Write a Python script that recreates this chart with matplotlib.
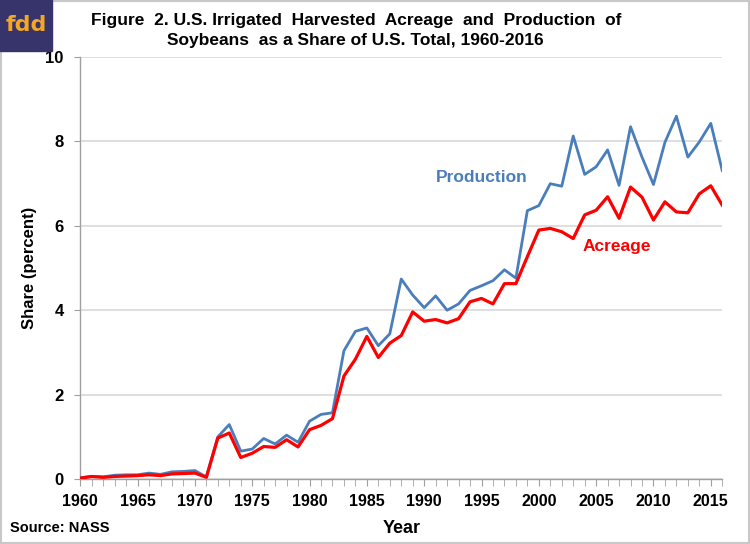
import matplotlib.pyplot as plt
from matplotlib.patches import Rectangle

# data (share of U.S. total, percent)
years = list(range(1960, 2017))
production = [0.03, 0.06, 0.05, 0.09, 0.10, 0.10, 0.14, 0.11, 0.17, 0.18,
              0.20, 0.05, 1.00, 1.29, 0.66, 0.71, 0.96, 0.83, 1.04, 0.87,
              1.37, 1.53, 1.57, 3.04, 3.50, 3.58, 3.16, 3.44, 4.74, 4.36,
              4.06, 4.34, 4.00, 4.15, 4.47, 4.58, 4.70, 4.96, 4.76, 6.36,
              6.48, 7.00, 6.94, 8.13, 7.22, 7.40, 7.80, 6.96, 8.35, 7.63,
              6.98, 7.98, 8.60, 7.63, 7.99, 8.43, 7.31]
acreage = [0.02, 0.06, 0.04, 0.06, 0.07, 0.08, 0.10, 0.08, 0.12, 0.13,
           0.14, 0.04, 0.97, 1.09, 0.51, 0.61, 0.77, 0.75, 0.93, 0.76,
           1.17, 1.27, 1.43, 2.44, 2.84, 3.38, 2.88, 3.22, 3.40, 3.96,
           3.74, 3.78, 3.70, 3.80, 4.20, 4.28, 4.15, 4.63, 4.63, 5.27,
           5.90, 5.94, 5.86, 5.70, 6.26, 6.37, 6.69, 6.18, 6.92, 6.68,
           6.14, 6.57, 6.33, 6.31, 6.76, 6.95, 6.49]
xticks = list(range(1960, 2016, 5))
yticks = [0, 2, 4, 6, 8, 10]

plt.rcParams['font.family'] = ['Liberation Sans', 'DejaVu Sans']
plt.rcParams['font.weight'] = 'bold'

fig = plt.figure(figsize=(7.5, 5.44), dpi=100)
ax = fig.add_axes([0.107, 0.1195, 0.856, 0.7755])

ax.plot(years, production, color='#4a7ebb', linewidth=2.0, zorder=3)
ax.plot(years, acreage, color='#ff0000', linewidth=2.3, zorder=4)

ax.set_xlim(1960, 2016)
ax.set_ylim(0, 10)
ax.set_yticks(yticks)
ax.set_xticks(xticks)
ax.set_xticks(years, minor=True)
ax.tick_params(axis='y', direction='out', length=4, color='#a0a0a0',
               labelsize=12, pad=8)
ax.tick_params(axis='x', which='both', direction='out', length=5, color='#a0a0a0',
               labelsize=11.5, pad=6)
ax.grid(axis='y', color='#d9d9d9', linewidth=1.2)
ax.set_axisbelow(True)
for s in ['top', 'right']:
    ax.spines[s].set_visible(False)
for s in ['left', 'bottom']:
    ax.spines[s].set_color('#a0a0a0')
    ax.spines[s].set_linewidth(1.0)

ax.set_xlabel('Year', fontsize=13, fontweight='bold', labelpad=8)
ax.set_ylabel('Share (percent)', fontsize=12, fontweight='bold', labelpad=6)

ax.text(1999.0, 7.15, 'Production', color='#4a7ebb', fontsize=12.5, fontweight='bold',
        ha='right', va='center')
ax.text(2006.8, 5.5, 'Acreage', color='#ff0000', fontsize=12.5, fontweight='bold',
        ha='center', va='center')

fig.text(0.475, 1 - 20 / 544, 'Figure  2. U.S. Irrigated  Harvested  Acreage  and  Production  of',
         ha='center', va='center', fontsize=12.5, fontweight='bold')
fig.text(0.474, 1 - 41 / 544, 'Soybeans  as a Share of U.S. Total, 1960-2016',
         ha='center', va='center', fontsize=12.5, fontweight='bold')
fig.text(0.013, 0.03, 'Source: NASS', ha='left', va='center', fontsize=10.5,
         fontweight='bold')

# logo box
fig.patches.append(Rectangle((0, 1 - 51 / 544), 52 / 750, 51 / 544,
                             transform=fig.transFigure, color='#37336b', zorder=5))
fig.text(26 / 750, 1 - 25 / 544, 'fdd', ha='center', va='center', fontsize=16,
         fontweight='bold', color='#f5a623', zorder=6,
         family=['DejaVu Sans'])

# light frame
fig.patches.append(Rectangle((0.001, 0.001), 0.998, 0.998, transform=fig.transFigure,
                             fill=False, edgecolor='#c8c8c8', linewidth=1.5))

fig.savefig('out.png', dpi=100)
